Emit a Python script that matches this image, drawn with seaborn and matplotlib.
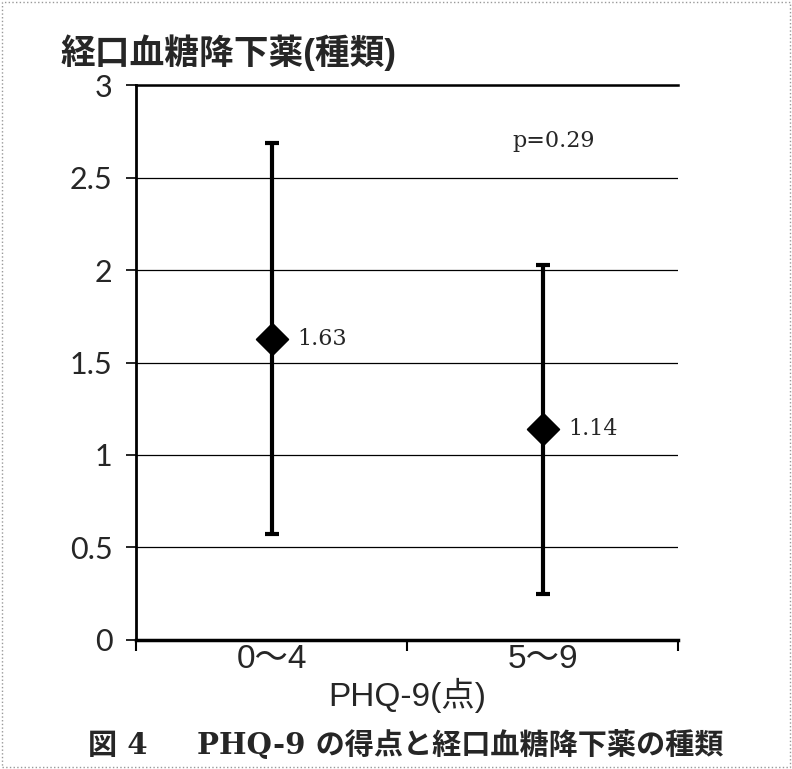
import matplotlib
matplotlib.use("Agg")
import matplotlib.pyplot as plt
from matplotlib.patches import Rectangle
from matplotlib.ticker import FixedLocator
import seaborn as sns
import pandas as pd

# データ
groups = ["0〜4", "5〜9"]
means = [1.63, 1.14]
sds = [1.06, 0.89]
p_text = "p=0.29"
yticks = [0, 0.5, 1, 1.5, 2, 2.5, 3]
ytick_labels = ["0", "0.5", "1", "1.5", "2", "2.5", "3"]

df = pd.DataFrame({"PHQ9": groups, "mean": means, "sd": sds})

sns.set_theme(style="white")
plt.rcParams["font.family"] = ["Liberation Sans", "Noto Sans CJK JP", "DejaVu Sans"]
serif = ["DejaVu Serif", "Noto Sans CJK JP"]

fig = plt.figure(figsize=(7.92, 7.69), dpi=100)
ax = fig.add_axes([0.172, 0.168, 0.684, 0.721])

# 平均値 ± SD
ax.errorbar(x=range(len(df)), y=df["mean"], yerr=df["sd"], fmt="none",
            ecolor="black", elinewidth=3, capsize=5, capthick=3, zorder=3)
sns.scatterplot(data=df, x="PHQ9", y="mean", marker="D", s=260,
                color="black", edgecolor="black", ax=ax, zorder=4, legend=False)

for i, m in enumerate(df["mean"]):
    ax.text(i + 0.095, m, f"{m:.2f}", va="center", ha="left",
            fontsize=16, family=serif)
ax.text(0.89, 2.70, p_text, va="center", ha="left", fontsize=16, family=serif)

# 軸
ax.set_xlim(-0.5, 1.5)
ax.set_ylim(0, 3)
ax.set_yticks(yticks)
ax.set_yticklabels(ytick_labels, fontsize=22, family=["Lato", "DejaVu Sans"])
ax.set_xticks([0, 1])
ax.set_xticklabels(groups, fontsize=24)
ax.xaxis.set_minor_locator(FixedLocator([-0.5, 0.5, 1.5]))
ax.tick_params(axis="x", which="major", length=0, pad=3)
ax.tick_params(axis="x", which="minor", bottom=True, length=8, width=1.5,
               direction="out", color="black")
ax.tick_params(axis="y", left=True, length=7, width=1.2, direction="out",
               color="black", pad=10)
ax.yaxis.grid(True, color="black", linewidth=0.9)
ax.set_axisbelow(True)

ax.spines["right"].set_visible(False)
ax.spines["top"].set_linewidth(1.8)
ax.spines["left"].set_linewidth(2)
ax.spines["bottom"].set_linewidth(2.5)
for s in ["top", "left", "bottom"]:
    ax.spines[s].set_color("black")

ax.set_xlabel("PHQ-9(点)", fontsize=24, labelpad=2)
ax.set_ylabel("")

fig.text(0.076, 0.932, "経口血糖降下薬(種類)", fontsize=25, fontweight="bold",
         va="center", ha="left")
fig.text(0.111, 0.031, "図 4　  PHQ-9 の得点と経口血糖降下薬の種類", fontsize=21,
         fontweight="bold", va="center", ha="left", family=serif)

fig.patches.append(Rectangle((0.002, 0.002), 0.996, 0.996, transform=fig.transFigure,
                             fill=False, edgecolor="#999999", linewidth=1,
                             linestyle=":"))

fig.savefig("out.png", dpi=100)
